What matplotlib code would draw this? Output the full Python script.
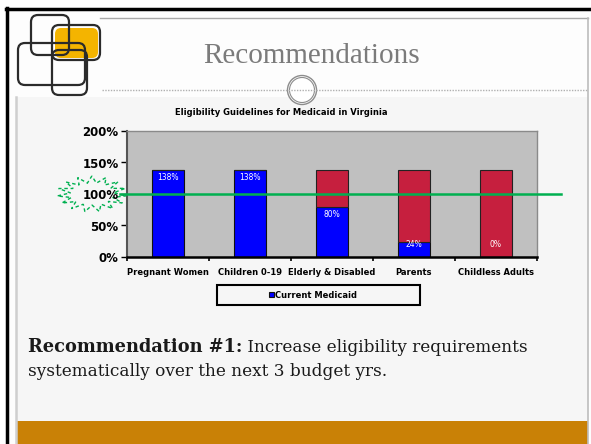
import matplotlib
matplotlib.use("Agg")
import matplotlib.pyplot as plt
import numpy as np
from matplotlib.patches import Rectangle, FancyBboxPatch, Circle, Polygon

# chart data
categories = ["Pregnant Women", "Children 0-19", "Elderly & Disabled", "Parents", "Childless Adults"]
current_medicaid = [138, 138, 80, 24, 0]
eligibility_limit = [138, 138, 138, 138, 138]
yticks = [0, 50, 100, 150, 200]
poverty_line = 100

chart_title = "Eligibility Guidelines for Medicaid in Virginia"
slide_title = "Recommendations"
rec_bold = "Recommendation #1:"
rec_line1 = " Increase eligibility requirements"
rec_line2 = "systematically over the next 3 budget yrs."

W, H = 591, 444
fig = plt.figure(figsize=(W / 100, H / 100), dpi=100)
fig.patch.set_facecolor("white")

# background axes in pixel coords
bg = fig.add_axes([0, 0, 1, 1])
bg.set_xlim(0, W)
bg.set_ylim(H, 0)
bg.axis("off")

# slide frame
bg.add_patch(Rectangle((6, 9), W - 6, H - 9, facecolor="#fdfdfd", edgecolor="none"))
bg.plot([6, W], [9, 9], color="black", lw=2.5)
bg.plot([7, 7], [8, H], color="black", lw=2.5)
# content area
bg.add_patch(Rectangle((16, 97), 572, 324, facecolor="#f6f6f6", edgecolor="none"))
bg.plot([16, 16], [97, H], color="#cfcfcf", lw=1.8)
# header box lines
bg.plot([100, 588], [18, 18], color="#a8a8a8", lw=1)
bg.plot([588, 588], [18, H], color="#bdbdbd", lw=1.2)
bg.plot([102, 588], [90, 90], color="#b0b0b0", lw=1, ls=(0, (1, 1)))
bg.add_patch(Circle((302, 90), 14.5, facecolor="white", edgecolor="#8c8c8c", lw=1))
bg.add_patch(Circle((302, 90), 12.5, facecolor="white", edgecolor="#8c8c8c", lw=0.8))
# bottom bar
bg.add_patch(Rectangle((17, 421), 571, 23, facecolor="#c98106", edgecolor="none"))

# logo
logo_col = "#2b2b2b"
bg.add_patch(FancyBboxPatch((55, 28), 43, 30, boxstyle="round,pad=0,rounding_size=6",
                            facecolor="#f4b400", edgecolor="none"))
for (x0, y0, x1, y1) in [(31, 15, 69, 55), (52, 25, 100, 60), (18, 43, 85, 85), (52, 50, 87, 95)]:
    bg.add_patch(FancyBboxPatch((x0, y0), x1 - x0, y1 - y0,
                                boxstyle="round,pad=0,rounding_size=7",
                                facecolor="none", edgecolor=logo_col, lw=1.6))

# slide title
bg.text(312, 63, slide_title, ha="center", va="baseline", color="#7b7b7b",
        fontsize=21, family="Liberation Serif")

# chart title
bg.text(281, 112, chart_title, ha="center", va="center", fontsize=6,
        fontweight="bold", color="black")

# chart axes
x0, x1, ytop, ybot = 127, 537, 131, 257
ax = fig.add_axes([x0 / W, (H - ybot) / H, (x1 - x0) / W, (ybot - ytop) / H])
ax.set_facecolor("#c0c0c0")
xpos = np.arange(len(categories))
remaining = [e - c for e, c in zip(eligibility_limit, current_medicaid)]
ax.bar(xpos, current_medicaid, width=0.39, color="#0000ff", edgecolor="#111111",
       lw=0.8, label="Current Medicaid", zorder=2)
ax.bar(xpos, remaining, bottom=current_medicaid, width=0.39, color="#c61f3e",
       edgecolor="#222222", lw=0.8, zorder=2)
for xi, v in zip(xpos, current_medicaid):
    ax.text(xi, max(v - 12, 20), f"{v}%", ha="center", va="center",
            color="white", fontsize=5.5, zorder=3)

ax.set_xlim(-0.5, len(categories) - 0.5)
ax.set_ylim(0, 200)
ax.set_yticks(yticks)
ax.set_yticklabels([f"{t}%" for t in yticks], fontsize=8.5, fontweight="bold")
ax.set_xticks(xpos)
ax.set_xticklabels(categories, fontsize=6, fontweight="bold")
ax.set_xticks(np.arange(len(categories) + 1) - 0.5, minor=True)
ax.tick_params(axis="x", which="major", length=0, pad=8)
ax.tick_params(axis="x", which="minor", length=3, width=1.2, direction="out")
ax.tick_params(axis="y", length=4, width=1, direction="out", pad=2)
for s in ["top", "right"]:
    ax.spines[s].set_color("#8a8a8a")
    ax.spines[s].set_linewidth(1)
ax.spines["left"].set_color("#555555")
ax.spines["left"].set_linewidth(1.5)
ax.spines["bottom"].set_color("black")
ax.spines["bottom"].set_linewidth(1.8)

# poverty-line highlight
ax.axhline(poverty_line, xmin=(120 - x0) / (x1 - x0), xmax=(561 - x0) / (x1 - x0),
           color="#00b050", lw=1.8, clip_on=False, zorder=4)

# starburst around the 100% label
n = 15
ang = np.linspace(0, 2 * np.pi, n * 2, endpoint=False) + 0.1
rad = np.where(np.arange(n * 2) % 2 == 0, 1.0, 0.62)
sx = 92 + 35 * rad * np.cos(ang)
sy = 194 + 18 * rad * np.sin(ang)
bg.add_patch(Polygon(np.column_stack([sx, sy]), closed=True, facecolor="none",
                     edgecolor="#00b050", lw=1, ls=(0, (2.5, 2)), zorder=5))

# legend box
bg.add_patch(Rectangle((217, 285), 203, 20, facecolor="none", edgecolor="black", lw=1.5))
h, l = ax.get_legend_handles_labels()
leg = fig.legend(h, l, loc="center", bbox_to_anchor=(313 / W, 1 - 295 / H),
                 frameon=False, handlelength=0.6, handleheight=0.6,
                 handletextpad=0.1, prop={"weight": "bold", "size": 6})

# recommendation text
fig.canvas.draw()
renderer = fig.canvas.get_renderer()
body_font = dict(family="DejaVu Serif", color="#1a1a1a")
t1 = bg.text(28, 352, rec_bold, ha="left", va="baseline", fontweight="bold",
             fontsize=12.8, **body_font)
bb = t1.get_window_extent(renderer)
inv = bg.transData.inverted()
xr = inv.transform((bb.x1, bb.y0))[0]
bg.text(xr, 352, rec_line1, ha="left", va="baseline", fontsize=12.2, **body_font)
bg.text(28, 376, rec_line2, ha="left", va="baseline", fontsize=12.2, **body_font)

fig.savefig("out.png", dpi=100)
